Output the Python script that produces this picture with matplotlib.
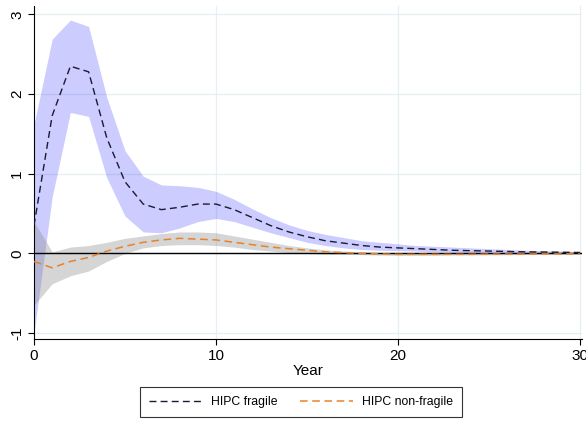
import matplotlib.pyplot as plt
import numpy as np

plt.rcParams['font.family'] = ['Liberation Sans', 'DejaVu Sans']

years = np.arange(0, 31)

# HIPC fragile: point estimate and band
fragile = [0.35, 1.73, 2.35, 2.28, 1.45, 0.90, 0.62, 0.55, 0.58, 0.62, 0.62,
           0.55, 0.45, 0.35, 0.27, 0.21, 0.16, 0.13, 0.10, 0.08, 0.07,
           0.06, 0.05, 0.04, 0.035, 0.03, 0.025, 0.02, 0.018, 0.015, 0.012]
fragile_hi = [1.62, 2.69, 2.93, 2.85, 1.96, 1.29, 0.97, 0.86, 0.85, 0.83, 0.78,
              0.68, 0.56, 0.45, 0.36, 0.29, 0.24, 0.20, 0.16, 0.14, 0.12,
              0.10, 0.09, 0.08, 0.07, 0.06, 0.05, 0.04, 0.035, 0.03, 0.025]
fragile_lo = [-1.0, 0.71, 1.77, 1.72, 0.95, 0.47, 0.27, 0.26, 0.32, 0.40, 0.44,
              0.40, 0.33, 0.26, 0.20, 0.14, 0.10, 0.07, 0.05, 0.04, 0.035,
              0.03, 0.02, 0.015, 0.01, 0.008, 0.006, 0.005, 0.004, 0.003, 0.002]

# HIPC non-fragile: point estimate and band
nonfragile = [-0.10, -0.18, -0.10, -0.05, 0.03, 0.09, 0.14, 0.17, 0.19, 0.18, 0.17,
              0.14, 0.11, 0.08, 0.06, 0.04, 0.02, 0.01, 0.0, -0.005, -0.01,
              -0.01, -0.01, -0.01, -0.01, -0.008, -0.007, -0.006, -0.005, -0.005, -0.004]
nonfragile_hi = [0.40, 0.02, 0.08, 0.10, 0.14, 0.19, 0.22, 0.25, 0.27, 0.27, 0.26,
                 0.22, 0.18, 0.14, 0.10, 0.07, 0.045, 0.03, 0.02, 0.012, 0.008,
                 0.006, 0.005, 0.004, 0.004, 0.003, 0.003, 0.003, 0.002, 0.002, 0.002]
nonfragile_lo = [-0.65, -0.38, -0.28, -0.22, -0.10, 0.0, 0.07, 0.10, 0.11, 0.11, 0.10,
                 0.08, 0.05, 0.03, 0.01, 0.0, -0.01, -0.01, -0.015, -0.02, -0.025,
                 -0.025, -0.025, -0.02, -0.02, -0.018, -0.016, -0.014, -0.012, -0.012, -0.01]

fig = plt.figure(figsize=(5.86, 4.32), dpi=100)
ax = fig.add_axes([0.058, 0.215, 0.935, 0.77])

grid_col = '#e6eff1'
for yv in [-1, 0, 1, 2, 3]:
    ax.axhline(yv, color=grid_col, lw=0.9, zorder=0)
for xv in [10, 20, 30]:
    ax.axvline(xv, color=grid_col, lw=0.9, zorder=0)

ax.fill_between(years, fragile_lo, fragile_hi, color='#0000ff', alpha=0.2, lw=0, zorder=1)
ax.fill_between(years, nonfragile_lo, nonfragile_hi, color='#888888', alpha=0.35, lw=0, zorder=2)
ax.axhline(0, color='black', lw=1.0, zorder=3)
ax.plot(years, fragile, color='#1a1a33', ls=(0, (5, 3)), lw=1.0, zorder=4, label='HIPC fragile')
ax.plot(years, nonfragile, color='#e8822a', ls=(0, (5, 3)), lw=1.1, zorder=4, label='HIPC non-fragile')

ax.set_xlim(0, 30.1)
ax.set_ylim(-1.075, 3.1)
ax.set_xticks([0, 10, 20, 30])
ax.set_yticks([-1, 0, 1, 2, 3])
ax.set_yticklabels(['-1', '0', '1', '2', '3'], rotation=90, va='center')
ax.tick_params(labelsize=11, length=4, width=0.8, pad=3)
ax.spines['top'].set_visible(False)
ax.spines['right'].set_visible(False)
ax.set_xlabel('Year', fontsize=11, labelpad=1)

fig.legend(loc='center', bbox_to_anchor=(0.514, 0.069), ncol=2, fontsize=8.8,
           frameon=True, fancybox=False, edgecolor='black', handlelength=4.3,
           columnspacing=1.8, borderpad=0.75)
fig.legends[0].get_frame().set_linewidth(0.8)

fig.savefig('out.png', dpi=100)
